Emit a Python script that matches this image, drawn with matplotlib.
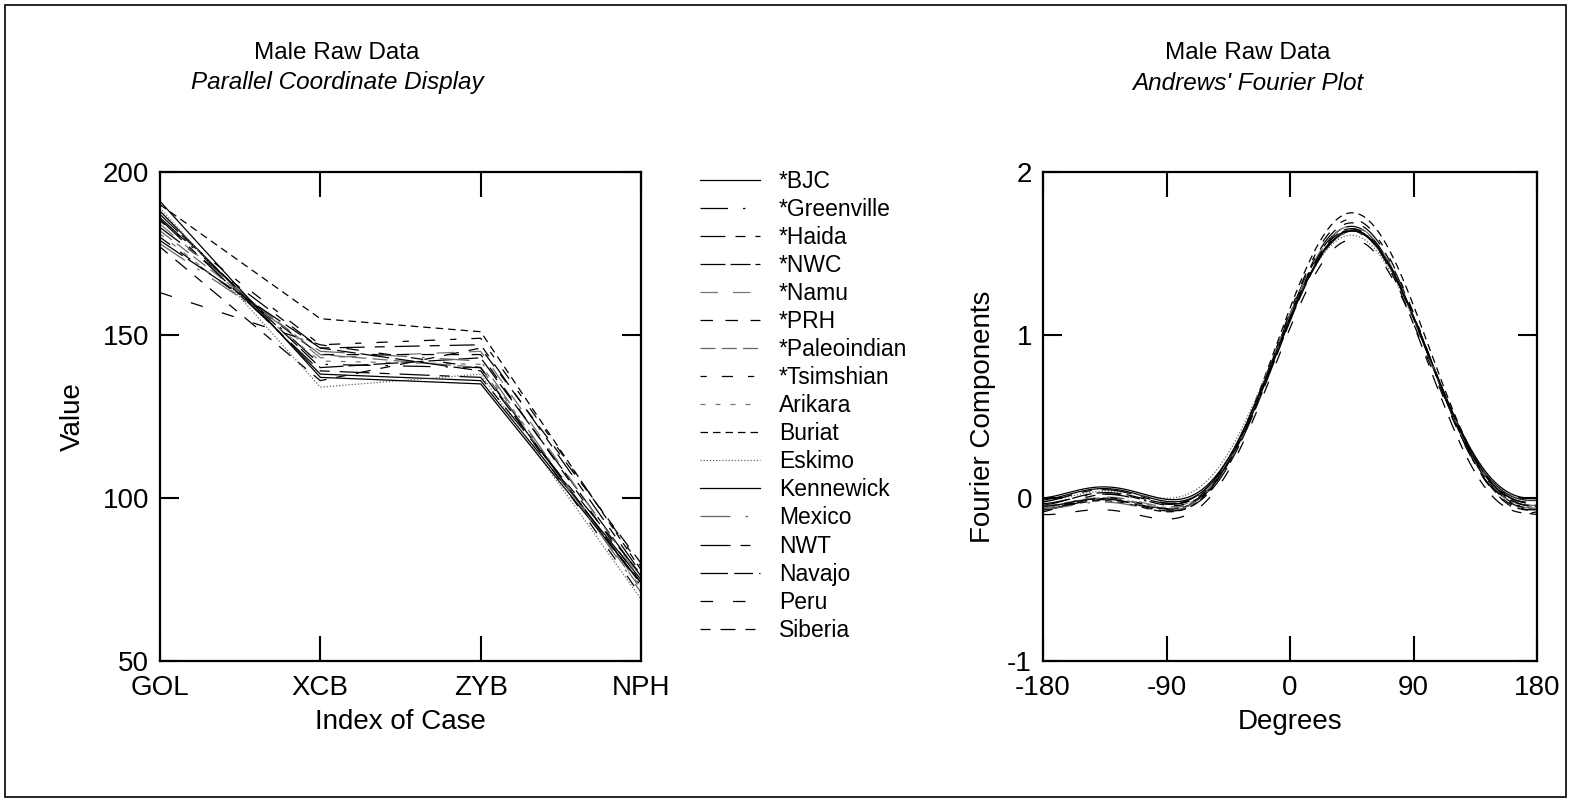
import numpy as np
import matplotlib
matplotlib.use("Agg")
import matplotlib.pyplot as plt
from matplotlib.patches import Rectangle

plt.rcParams['font.family'] = ['Liberation Sans', 'DejaVu Sans']
plt.rcParams['axes.unicode_minus'] = False

# ---------------- data ----------------
variables = ["GOL", "XCB", "ZYB", "NPH"]
groups = ["*BJC", "*Greenville", "*Haida", "*NWC", "*Namu", "*PRH", "*Paleoindian",
          "*Tsimshian", "Arikara", "Buriat", "Eskimo", "Kennewick", "Mexico", "NWT",
          "Navajo", "Peru", "Siberia"]
gol = [188, 186, 183, 187, 184, 180, 182, 185, 181, 190, 189, 191, 178, 185.5, 179, 163, 177]
xcb = [138, 141, 146, 140, 143, 144, 144, 147, 142, 155, 134, 137, 145, 139, 146, 147, 136]
zyb = [136, 140, 147, 143, 145, 144, 140, 149, 141, 151, 138, 135, 142, 137, 139, 140, 146]
nph = [75, 73, 77, 76, 75, 74, 72, 79, 72.5, 78, 69, 74, 71, 76.5, 73.5, 70, 80]

# line styles (style only)
styles = [
    ("-", "black"),
    ((0, (22, 12, 2, 12)), "black"),
    ((0, (20, 8, 8, 8)), "black"),
    ((0, (20, 4, 16, 4)), "black"),
    ((0, (14, 12)), "#777777"),
    ((0, (10, 10)), "black"),
    ((0, (12, 5)), "#666666"),
    ((0, (5, 12, 9, 12)), "black"),
    ((0, (4, 8)), "#777777"),
    ((0, (6, 4)), "black"),
    ((0, (1, 1.5)), "#666666"),
    ("-", "black"),
    ((0, (24, 12, 2, 12)), "#666666"),
    ((0, (24, 8, 8, 8)), "black"),
    ((0, (22, 5, 15, 5)), "black"),
    ((0, (10, 16)), "black"),
    ((0, (8, 8, 12, 8)), "black"),
]

W, H = 1569, 800
fig = plt.figure(figsize=(W / 100, H / 100), dpi=100)

def fx(px):
    return px / W

def fy(py):
    return 1 - py / H

ax1 = fig.add_axes([fx(160), fy(661), fx(641) - fx(160), fy(172) - fy(661)])
ax2 = fig.add_axes([fx(1043), fy(661), fx(1537) - fx(1043), fy(172) - fy(661)])

data = np.array([gol, xcb, zyb, nph]).T
xpos = np.arange(len(variables))
handles = []
for i, g in enumerate(groups):
    ls, col = styles[i]
    h, = ax1.plot(xpos, data[i], linestyle=ls, color=col, lw=0.9, label=g)
    handles.append(h)

ax1.set_xlim(0, 3)
ax1.set_ylim(50, 200)
ax1.set_xticks(xpos)
ax1.set_xticklabels(variables)
ax1.set_yticks([50, 100, 150, 200])
ax1.set_xlabel("Index of Case", fontsize=20, labelpad=6)
ax1.set_ylabel("Value", fontsize=20, labelpad=12)

# Andrews' Fourier curves from the same data
scale = 1 / 245.0
t_deg = np.linspace(-180, 180, 721)
t = np.radians(t_deg)
for i, g in enumerate(groups):
    x1, x2, x3, x4 = data[i] * scale
    f = x1 / np.sqrt(2) + x2 * np.sin(t) + x3 * np.cos(t) + x4 * np.sin(2 * t)
    ls, col = styles[i]
    ax2.plot(t_deg, f, linestyle=ls, color=col, lw=0.9)

ax2.set_xlim(-180, 180)
ax2.set_ylim(-1, 2)
ax2.set_xticks([-180, -90, 0, 90, 180])
ax2.set_yticks([-1, 0, 1, 2])
ax2.set_xlabel("Degrees", fontsize=20, labelpad=6)
ax2.set_ylabel("Fourier Components", fontsize=20, labelpad=8)

for ax in (ax1, ax2):
    ax.tick_params(axis="x", direction="in", length=18, width=1.5, top=True,
                   labelsize=20, pad=10)
    ax.tick_params(axis="y", direction="in", length=14, width=1.5, right=True,
                   labelsize=20, pad=8)
    for s in ax.spines.values():
        s.set_linewidth(1.6)

# titles
fig.text(fx(337), fy(53), "Male Raw Data", ha="center", va="center", fontsize=17.5)
fig.text(fx(337), fy(83), "Parallel Coordinate Display", ha="center", va="center",
         fontsize=17.5, style="italic")
fig.text(fx(1248), fy(53), "Male Raw Data", ha="center", va="center", fontsize=17.5)
fig.text(fx(1248), fy(83), "Andrews' Fourier Plot", ha="center", va="center",
         fontsize=17.5, style="italic")

fig.legend(handles=handles, labels=groups, loc="upper left",
           bbox_to_anchor=(fx(700), fy(170)), frameon=False, fontsize=16.5,
           handlelength=2.6, handletextpad=0.85, labelspacing=0.22, borderaxespad=0,
           borderpad=0)

fig.add_artist(Rectangle((fx(5), fy(797)), fx(1566) - fx(5), fy(5) - fy(797),
                         transform=fig.transFigure, fill=False, lw=1.2, color="black"))

fig.savefig("out.png", dpi=100)
